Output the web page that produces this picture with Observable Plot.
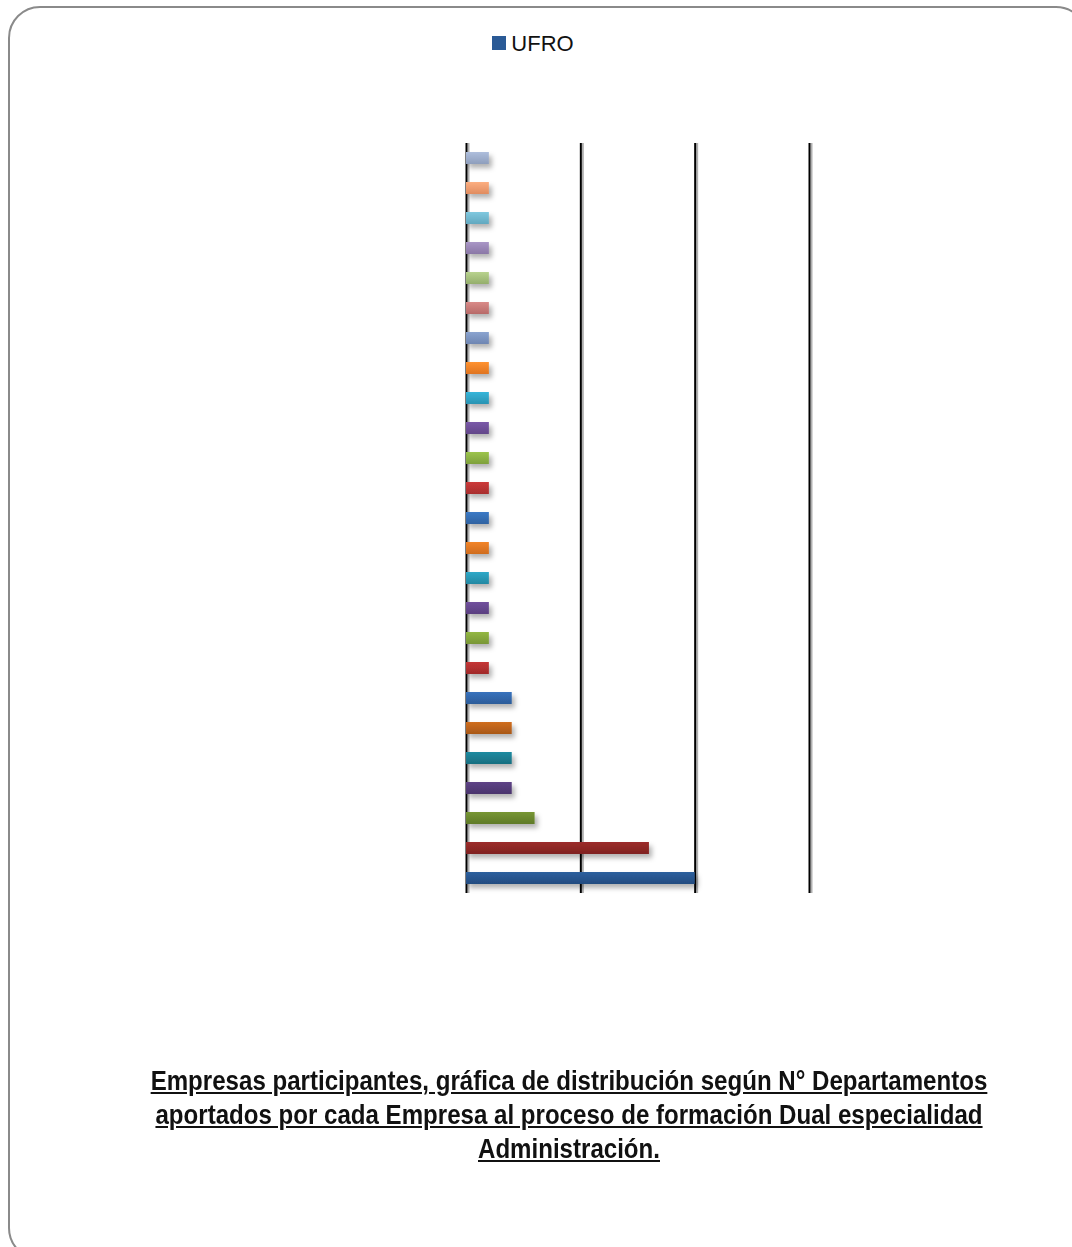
<!DOCTYPE html>
<html>
<head>
<meta charset="utf-8">
<script src="https://cdn.jsdelivr.net/npm/d3@7"></script>
<script src="https://cdn.jsdelivr.net/npm/@observablehq/plot@0.6"></script>
<style>
  html, body { margin: 0; padding: 0; background: #fff; }
  #wrap { position: relative; width: 1072px; height: 1247px; overflow: hidden; background: #fff; }
  #frame { position: absolute; left: 8px; top: 6px; width: 1080px; height: 1254px; border: 2px solid #8a8a8a; border-radius: 32px; box-sizing: border-box; }
  #legend { position: absolute; top: 31px; left: -3px; width: 1072px; text-align: center; font-family: "Liberation Sans", Arial, sans-serif; font-size: 22px; color: #111; }
  #legend .sw { display: inline-block; width: 14px; height: 14px; background: #2a5a96; margin-right: 5px; vertical-align: 1px; }
  #chart { position: absolute; top: 130px; left: 0; }
  #caption { position: absolute; top: 1063px; left: 69px; width: 1000px; text-align: center; font-family: "Liberation Sans", Arial, sans-serif; font-weight: bold; font-size: 28.5px; line-height: 34px; color: #111; transform: scaleX(0.845); transform-origin: 500px 0; white-space: nowrap; }
  #caption span { text-decoration: underline; }
</style>
</head>
<body>
<div id="wrap">
  <div id="frame"></div>
  <div id="legend"><span class="sw"></span>UFRO</div>
  <div id="chart"></div>
  <div id="caption"><span>Empresas participantes, gráfica de distribución según N° Departamentos</span><br><span>aportados por cada Empresa al proceso de formación Dual especialidad</span><br><span>Administración.</span></div>
</div>
<script>
// Data (bottom bar first)
const empresas = d3.range(1, 26).map(i => "Empresa " + i);
const departamentos = [10, 8, 3, 2, 2, 2, 2, 1, 1, 1, 1, 1, 1, 1, 1, 1, 1, 1, 1, 1, 1, 1, 1, 1, 1];
const topColors = ["#2d5f9e", "#9c2c2a", "#779634", "#5e4386", "#1f8aa0", "#d06e20",
                   "#3872bd", "#c53636", "#93b743", "#71509d", "#2ea8c8", "#f28428",
                   "#3b7ac6", "#cc3a3a", "#9cc44c", "#7a58a8", "#35b5da", "#ff9230",
                   "#8aa4d0", "#d98a88", "#b8d28e", "#a996c6", "#7fc8df", "#fcae80", "#aebedc"];
const botColors = ["#234c80", "#7f2220", "#5f7a28", "#4a346c", "#186e80", "#a85818",
                   "#2c5c99", "#a02a2a", "#789636", "#5a3f80", "#2388a2", "#cf6c1e",
                   "#2f62a1", "#a82e2e", "#7ea03c", "#624689", "#2a93b2", "#df7420",
                   "#6e86b2", "#b76a68", "#94ae6c", "#8a77a6", "#62a8bf", "#e08c60", "#8e9ebc"];
const ticks = [0, 5, 10, 15];

const data = empresas.map((e, i) => ({empresa: e, valor: departamentos[i], fill: `url(#grad${i})`}));

const plot = Plot.plot({
  width: 1072,
  height: 773,
  marginTop: 13,
  marginBottom: 10,
  marginLeft: 466,
  marginRight: 263,
  x: {domain: [0, 15], axis: null},
  y: {domain: empresas.slice().reverse(), axis: null, paddingInner: 0.6, paddingOuter: 0.3},
  color: {type: "identity"},
  marks: [
    Plot.ruleX(ticks, {stroke: "#b0b0b0", strokeWidth: 2, dx: 2}),
    Plot.ruleX(ticks, {stroke: "#000", strokeWidth: 2}),
    Plot.barX(data, {x: "valor", y: "empresa", fill: "fill", className: "bars"})
  ]
});

const svg = d3.select(plot);
const defs = svg.insert("defs", ":first-child");
topColors.forEach((c, i) => {
  const g = defs.append("linearGradient").attr("id", "grad" + i).attr("x1", 0).attr("y1", 0).attr("x2", 0).attr("y2", 1);
  g.append("stop").attr("offset", "0%").attr("stop-color", c);
  g.append("stop").attr("offset", "100%").attr("stop-color", botColors[i]);
});
const f = defs.append("filter").attr("id", "shadow").attr("x", "-10%").attr("y", "-50%").attr("width", "130%").attr("height", "250%");
f.append("feDropShadow").attr("dx", 3).attr("dy", 4).attr("stdDeviation", 2.5).attr("flood-color", "#000").attr("flood-opacity", 0.3);
svg.selectAll("g.bars").attr("filter", "url(#shadow)");

document.getElementById("chart").appendChild(plot);
</script>
</body>
</html>
